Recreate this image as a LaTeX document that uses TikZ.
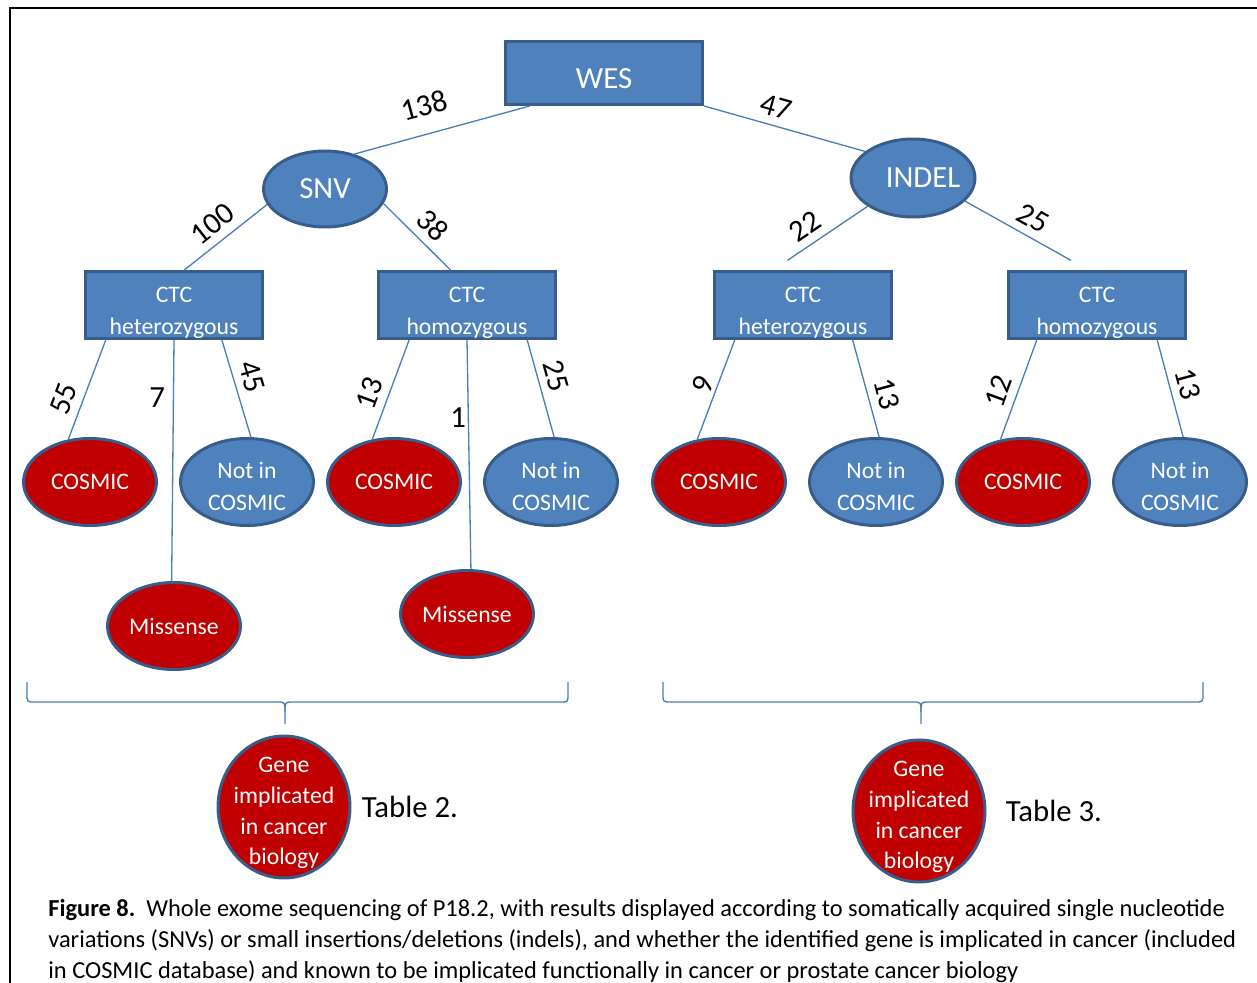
\documentclass[tikz,border=0pt]{standalone}
\usepackage{fontspec}
\setmainfont{Carlito}
\usetikzlibrary{shapes.geometric, positioning}

\definecolor{boxblue}{HTML}{4F81BD}
\definecolor{rimblue}{HTML}{385D8A}
\definecolor{edgeblue}{HTML}{4A7EBB}
\definecolor{hitred}{HTML}{C00000}

% struts that push a node's text a little down
\newcommand{\lowtop}[1]{\rule{0pt}{#1}}

\begin{document}
\begin{tikzpicture}[
  x=0.02cm, y=-0.02cm,
  topbox/.style={rectangle, draw=rimblue, fill=boxblue, line width=1.7pt, text=white,
    font=\fontsize{17.5}{21}\selectfont, minimum width=3.94cm, minimum height=1.26cm},
  ctcbox/.style={rectangle, draw=rimblue, fill=boxblue, line width=1.7pt, text=white,
    align=center, inner sep=0pt, font=\fontsize{13.5}{18}\selectfont,
    minimum width=3.54cm, minimum height=1.3cm},
  kind/.style={ellipse, draw=rimblue, fill=boxblue, line width=1.7pt, text=white,
    inner sep=0pt, font=\fontsize{17.5}{21}\selectfont,
    minimum width=2.46cm, minimum height=1.52cm},
  hit/.style={ellipse, draw=rimblue, fill=hitred, line width=1.7pt, text=white,
    align=center, inner sep=0pt, font=\fontsize{13.5}{18}\selectfont,
    minimum width=2.66cm, minimum height=1.74cm},
  notin/.style={hit, fill=boxblue},
  gene/.style={hit, font=\fontsize{13.5}{17.6}\selectfont, inner xsep=-4pt, inner ysep=-7pt,
    minimum width=2.64cm, minimum height=2.84cm},
  edge/.style={draw=edgeblue, line width=0.75pt},
  num/.style={font=\fontsize{17.5}{21}\selectfont, inner sep=4.5pt},
  tbl/.style={font=\fontsize{17.5}{21}\selectfont, inner sep=0pt},
  bracket/.style={draw=edgeblue, line width=0.75pt}
]
\useasboundingbox (0,0) rectangle (1257,983);

% frame
\draw[line width=1.4pt] (10,983) -- (10,8) -- (1257,8);

% -------------------------
% NODES
% -------------------------
\node[topbox] (wes) at (604,73) {\lowtop{18pt}WES};

\node[kind] (snv) at (325,189) {SNV};
\node[kind, inner xsep=-2.5pt, minimum width=2.48cm, minimum height=1.56cm] (indel) at (913,178)
  {\hspace*{0.4cm}INDEL};

\node[ctcbox] (ctcA) at (174,305) {\lowtop{17.5pt}CTC\\heterozygous};
\node[ctcbox] (ctcB) at (467,305) {\lowtop{17.5pt}CTC\\homozygous};
\node[ctcbox] (ctcC) at (803,305) {\lowtop{17.5pt}CTC\\heterozygous};
\node[ctcbox] (ctcD) at (1097,305) {\lowtop{17.5pt}CTC\\homozygous};

\node[hit] (cosA) at (90,482) {COSMIC};
\node[notin] (notA) at (247,482) {\lowtop{14.5pt}Not in\\COSMIC};
\node[hit] (cosB) at (394,482) {COSMIC};
\node[notin] (notB) at (551,482) {\lowtop{14.5pt}Not in\\COSMIC};
\node[hit] (cosC) at (719,482) {COSMIC};
\node[notin] (notC) at (876,482) {\lowtop{14.5pt}Not in\\COSMIC};
\node[hit] (cosD) at (1023,482) {COSMIC};
\node[notin] (notD) at (1180,482) {\lowtop{14.5pt}Not in\\COSMIC};

\node[hit] (misA) at (174,626) {Missense};
\node[hit] (misB) at (467,614) {Missense};

\node[gene] (geneL) at (284,807) {\lowtop{15.5pt}Gene\\implicated\\in cancer\\biology};
\node[gene] (geneR) at (919,811) {\lowtop{15.5pt}Gene\\implicated\\in cancer\\biology};
\node[tbl, right=0.2cm of geneL] (tab2) {Table 2.};
\node[tbl, right=0.38cm of geneR] (tab3) {Table 3.};

% -------------------------
% EDGES
% -------------------------
\draw[edge] (wes.204) -- node[num, sloped, above=5.5pt, pos=0.56] (n138) {138} (snv.50);
\draw[edge] (wes.south east) -- node[num, sloped, above, pos=0.42] (n47) {47} (indel.151);

\draw[edge] (snv.195) -- node[num, sloped, above, pos=0.52] (n100) {100} (ctcA.74);
\draw[edge] (snv.346) -- node[num, sloped, above, pos=0.53] (n38) {38} (ctcB.115);
\draw[edge] (indel.212) -- node[num, sloped, above, pos=0.66] (n22) {22} ([yshift=0.2cm]ctcC.114);
\draw[edge] (indel.336) -- node[num, sloped, above, pos=0.56] (n25) {25} ([yshift=0.2cm]ctcD.127);

\draw[edge] (ctcA.207) -- node[num, sloped, above, pos=0.66] (n55) {55} (cosA.117);
\draw[edge] (ctcA.south) -- node[num, left, pos=0.24] (n7) {7} (misA.93);
\draw[edge] (ctcA.324) -- node[num, sloped, above, pos=0.43] (n45) {45} (notA.85);

\draw[edge] (ctcB.211) -- node[num, sloped, above, pos=0.6] (n13a) {13} (cosB.117);
\draw[edge] (ctcB.south) -- node[num, left, inner sep=1pt, pos=0.34] (n1) {1} (misB.85);
\draw[edge] (ctcB.330) -- node[num, sloped, above, pos=0.42] (n25b) {25} (notB.86);

\draw[edge] (ctcC.207) -- node[num, sloped, above, inner sep=2pt, pos=0.5] (n9) {9} (cosC.117);
\draw[edge] (ctcC.325) -- node[num, sloped, above, pos=0.61] (n13b) {13} (notC.86);

\draw[edge] (ctcD.210) -- node[num, sloped, above, pos=0.58] (n12) {12} (cosD.118);
\draw[edge] (ctcD.330) -- node[num, sloped, above, pos=0.5] (n13c) {13} (notD.86);

% brackets
\draw[bracket] (27,682) -- (27,694) .. controls (27,702) .. (35,702) -- (277,702)
  .. controls (285,702) .. (285,712) -- (285,724);
\draw[bracket] (568,682) -- (568,694) .. controls (568,702) .. (560,702) -- (293,702)
  .. controls (285,702) .. (285,712);
\draw[bracket] (663,682) -- (663,694) .. controls (663,702) .. (671,702) -- (913,702)
  .. controls (921,702) .. (921,712) -- (921,724);
\draw[bracket] (1203,682) -- (1203,694) .. controls (1203,702) .. (1195,702) -- (929,702)
  .. controls (921,702) .. (921,712);

% caption
\node[anchor=north west, align=left, inner sep=0pt, font=\fontsize{13.9}{17.6}\selectfont]
  (caption) at (48,899)
  {\textbf{Figure 8.}\ \ Whole exome sequencing of P18.2, with results displayed according to somatically acquired single nucleotide\\
   variations (SNVs) or small insertions/deletions (indels), and whether the identified gene is implicated in cancer (included\\
   in COSMIC database) and known to be implicated functionally in cancer or prostate cancer biology};

\end{tikzpicture}
\end{document}
